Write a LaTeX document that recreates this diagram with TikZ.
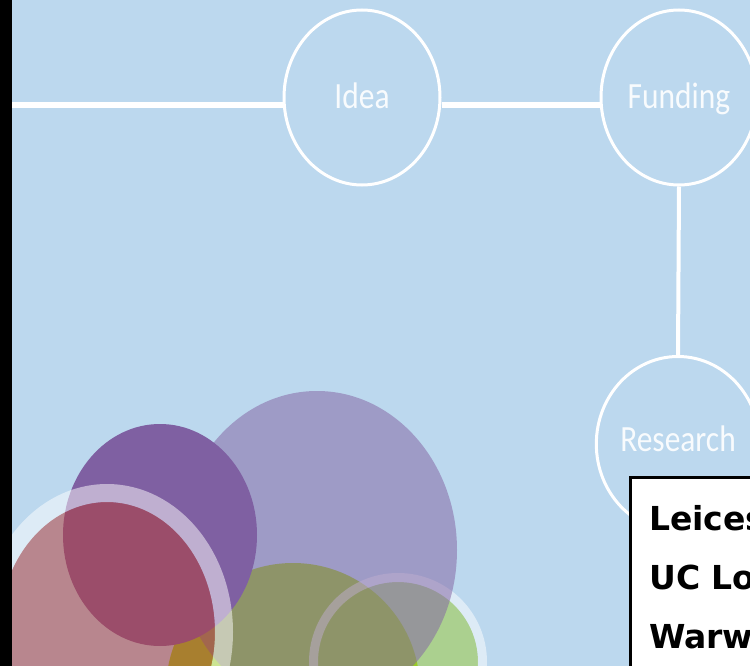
\documentclass[tikz,border=0pt]{standalone}
\usepackage{fontspec}
\usetikzlibrary{shapes.geometric}
\newfontfamily\labfont[FakeStretch=0.85]{Carlito}
\newfontfamily\boxfont{DejaVu Sans}
\definecolor{bgblue}{RGB}{188,216,238}
\definecolor{lgreen}{RGB}{171,208,143}
\definecolor{ggreen}{RGB}{153,202,40}
\definecolor{lavcol}{RGB}{133,101,164}
\definecolor{purp}{RGB}{127,96,162}
\definecolor{pinkcol}{RGB}{182,60,55}
\begin{document}
\begin{tikzpicture}[x=1pt,y=-1pt,
  stage/.style={ellipse, draw=white, line width=3pt, minimum width=156pt, minimum height=175pt,
    inner sep=0pt, text=white, text opacity=0.9, text height=23pt, text depth=0pt,
    font=\labfont\fontsize{37}{40}\selectfont},
  conn/.style={draw=white, line width=6pt},
  vconn/.style={draw=white, line width=4pt},
  ring/.style={draw=white, draw opacity=0.5},
  boxtext/.style={anchor=base west, inner sep=0pt, font=\boxfont\bfseries\fontsize{33}{36}\selectfont}]
\useasboundingbox (0,0) rectangle (750,666);
\clip (0,0) rectangle (750,666);
\fill[bgblue] (0,0) rectangle (750,666);
% bubbles
\fill[lgreen] (398,662) circle[radius=80];
\fill[ggreen] (293,690) circle[radius=127];
\draw[ring, line width=9pt] (398,662) circle[radius=84.5];
\fill[lavcol, fill opacity=0.53] (317,550) ellipse[x radius=140, y radius=159];
\fill[purp] (160,535) ellipse[x radius=97, y radius=111];
\fill[pinkcol, fill opacity=0.52] (107,632) ellipse[x radius=108, y radius=130];
\draw[ring, line width=18pt] (107,632) ellipse[x radius=117, y radius=139];
% stages
\node[stage] (idea) at (362,97.5) {Idea};
\node[stage] (fund) at (679,97.5) {Funding};
\node[stage] (res) at (678,444) {\raisebox{4pt}{Research}};
\coordinate (start) at (12,105);
\draw[conn] (start) -- (start -| idea.west);
\draw[conn] (idea.east |- start) -- (fund.west |- start);
\draw[vconn] (fund.south) -- (res.north);
% box
\node[draw=black, line width=3pt, fill=white, anchor=north west, minimum width=150pt,
  minimum height=220pt, inner sep=0pt] (box) at (628.5,475.5) {};
\node[boxtext] (t1) at (649,530) {Leices};
\node[boxtext] (t2) at (649,589) {UC Lo};
\node[boxtext] (t3) at (649,648) {Warwi};
\fill[black] (0,0) rectangle (12,666);
\end{tikzpicture}
\end{document}
